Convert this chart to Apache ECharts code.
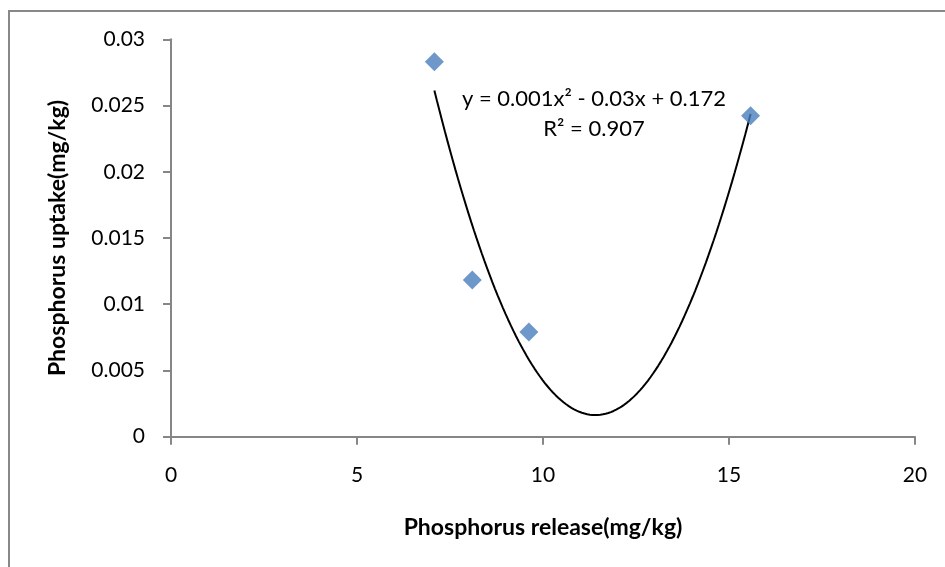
<!DOCTYPE html>
<html>
<head>
<meta charset="utf-8">
<script src="https://cdn.jsdelivr.net/npm/echarts@6/dist/echarts.min.js"></script>
<style>
  html, body { margin: 0; padding: 0; background: #fff; }
  #chart { width: 945px; height: 567px; }
</style>
</head>
<body>
<div id="chart"></div>
<script>
// points
var releaseX = [7.08, 8.10, 9.62, 15.58];
var uptakeY = [0.02831, 0.01183, 0.0079, 0.02423];

var xTicks = [0, 5, 10, 15, 20];
var yTicks = [0, 0.005, 0.01, 0.015, 0.02, 0.025, 0.03];

var eqLabel = 'y = 0.001x\u00b2 - 0.03x + 0.172\nR\u00b2 = 0.907';

// polynomial (order 2) trendline, least squares over the points, like excel does
function quadFit(xs, ys) {
    var s = [0, 0, 0, 0, 0], t = [0, 0, 0];
    for (var i = 0; i < xs.length; i++) {
        var p = 1;
        for (var k = 0; k < 5; k++) {
            s[k] += p;
            if (k < 3) t[k] += p * ys[i];
            p *= xs[i];
        }
    }
    var m = [
        [s[0], s[1], s[2], t[0]],
        [s[1], s[2], s[3], t[1]],
        [s[2], s[3], s[4], t[2]]
    ];
    for (var c = 0; c < 3; c++) {
        for (var r = c + 1; r < 3; r++) {
            var f = m[r][c] / m[c][c];
            for (var j = c; j < 4; j++) m[r][j] -= f * m[c][j];
        }
    }
    var coef = [0, 0, 0];
    for (var r2 = 2; r2 >= 0; r2--) {
        var v = m[r2][3];
        for (var j2 = r2 + 1; j2 < 3; j2++) v -= m[r2][j2] * coef[j2];
        coef[r2] = v / m[r2][r2];
    }
    return coef; // c0 + c1 x + c2 x^2
}

var coef = quadFit(releaseX, uptakeY);
var x0 = Math.min.apply(null, releaseX), x1 = Math.max.apply(null, releaseX);
var trend = [];
for (var n = 0; n <= 120; n++) {
    var x = x0 + (x1 - x0) * n / 120;
    trend.push([x, coef[0] + coef[1] * x + coef[2] * x * x]);
}

var pts = releaseX.map(function (x, i) { return [x, uptakeY[i]]; });

var font = 'Lato, "Open Sans", sans-serif';
var axisGray = '#868686';

var myChart = echarts.init(document.getElementById('chart'));
var option = {
    backgroundColor: '#fff',
    animation: false,
    textStyle: { fontFamily: font },
    grid: {
        left: 171,
        right: 30,
        top: 39.3,
        bottom: 130.3,
        containLabel: false
    },
    xAxis: {
        type: 'value',
        min: xTicks[0],
        max: xTicks[xTicks.length - 1],
        interval: 5,
        name: 'Phosphorus release(mg/kg)',
        nameLocation: 'middle',
        nameGap: 79,
        nameTextStyle: { fontSize: 23, fontWeight: 'bold', color: '#000', fontFamily: font },
        axisLine: { onZero: false, lineStyle: { color: axisGray, width: 2 } },
        axisTick: { show: true, inside: false, length: 8, lineStyle: { color: axisGray, width: 2 } },
        axisLabel: { margin: 28, fontSize: 21, color: '#000', fontFamily: font },
        splitLine: { show: false }
    },
    yAxis: {
        type: 'value',
        min: yTicks[0],
        max: yTicks[yTicks.length - 1],
        interval: 0.005,
        name: 'Phosphorus uptake(mg/kg)',
        nameLocation: 'middle',
        nameGap: 102,
        nameRotate: 90,
        nameTextStyle: { fontSize: 23, fontWeight: 'bold', color: '#000', fontFamily: font },
        axisLine: { onZero: false, lineStyle: { color: axisGray, width: 2 } },
        axisTick: { show: true, inside: false, length: 8, lineStyle: { color: axisGray, width: 2 } },
        axisLabel: { margin: 26, fontSize: 21, color: '#000', fontFamily: font },
        splitLine: { show: false }
    },
    graphic: [
        {
            // chart area border (only left and top visible in the original)
            type: 'rect',
            silent: true,
            shape: { x: 9, y: 11, width: 1000, height: 1000 },
            style: { fill: 'none', stroke: '#888', lineWidth: 2 }
        },
        {
            type: 'text',
            x: 594,
            y: 114,
            style: {
                text: eqLabel,
                font: '22px ' + font,
                fill: '#000',
                align: 'center',
                verticalAlign: 'middle',
                lineHeight: 30
            }
        }
    ],
    series: [
        {
            name: 'trend',
            type: 'line',
            data: trend,
            showSymbol: false,
            smooth: false,
            lineStyle: { color: '#000', width: 2 },
            z: 2
        },
        {
            name: 'uptake',
            type: 'scatter',
            data: pts,
            symbol: 'diamond',
            symbolSize: 19,
            itemStyle: { color: '#4A7EBB' },
            z: 3
        }
    ]
};
myChart.setOption(option);
</script>
</body>
</html>
